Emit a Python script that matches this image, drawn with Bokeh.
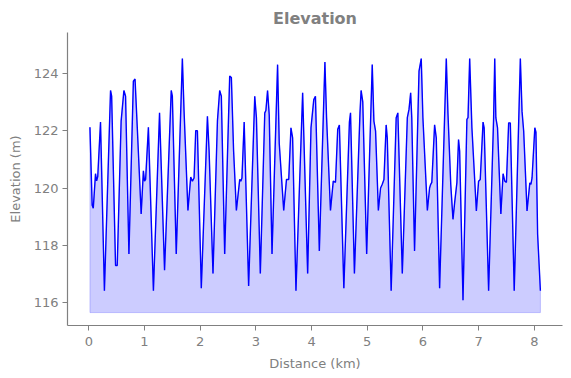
from bokeh.plotting import figure
from bokeh.models import Range1d, FixedTicker
from bokeh.embed import file_html
from bokeh.resources import INLINE

distance_km = [
    0.02, 0.06, 0.08, 0.12, 0.14, 0.16, 0.21, 0.28, 0.39, 0.41, 0.48, 0.51, 0.58, 0.63, 0.66,
    0.72, 0.80, 0.83, 0.87, 0.94, 0.98, 1.00, 1.02, 1.07, 1.16, 1.27, 1.36, 1.48, 1.50, 1.57,
    1.68, 1.71, 1.78, 1.83, 1.86, 1.89, 1.92, 1.95, 2.02, 2.13, 2.16, 2.23, 2.31, 2.35, 2.38,
    2.44, 2.53, 2.56, 2.60, 2.65, 2.71, 2.73, 2.75, 2.79, 2.87, 2.98, 3.01, 3.08, 3.16, 3.18,
    3.21, 3.24, 3.29, 3.39, 3.42, 3.50, 3.55, 3.59, 3.63, 3.66, 3.72, 3.84, 3.93, 3.99, 4.04,
    4.07, 4.14, 4.24, 4.27, 4.34, 4.39, 4.43, 4.47, 4.50, 4.58, 4.68, 4.70, 4.77, 4.87, 4.89,
    4.92, 4.99, 5.09, 5.12, 5.15, 5.20, 5.24, 5.27, 5.30, 5.34, 5.36, 5.43, 5.52, 5.55, 5.63,
    5.72, 5.75, 5.78, 5.80, 5.85, 5.93, 5.97, 6.00, 6.08, 6.12, 6.14, 6.16, 6.21, 6.24, 6.30,
    6.42, 6.45, 6.50, 6.54, 6.57, 6.61, 6.64, 6.66, 6.72, 6.79, 6.81, 6.84, 6.88, 6.96, 7.00,
    7.03, 7.08, 7.10, 7.18, 7.27, 7.29, 7.31, 7.34, 7.40, 7.44, 7.47, 7.50, 7.54, 7.57, 7.64,
    7.75, 7.78, 7.81, 7.87, 7.92, 7.94, 7.96, 8.01, 8.03, 8.06, 8.11,
]
elevation_m = [
    122.12, 119.4, 119.3, 120.5, 120.25, 120.4, 122.3, 116.42, 123.4, 123.2, 117.3, 117.3, 122.33, 123.4, 123.2,
    117.7, 123.72, 123.8, 122.12, 119.1, 120.6, 120.24, 120.3, 122.12, 116.42, 122.62, 117.14, 123.4, 123.2, 117.7,
    124.51, 122.7, 119.22, 120.38, 120.24, 120.35, 122.0, 122.0, 116.51, 122.5, 121.3, 117.02, 122.35, 123.4, 123.2,
    117.7, 123.9, 123.85, 121.3, 119.22, 120.3, 120.24, 120.35, 122.3, 116.59, 123.2, 122.45, 117.02, 122.62, 122.7,
    123.4, 122.55, 117.7, 124.3, 121.55, 119.22, 120.3, 120.3, 122.1, 121.75, 116.42, 123.32, 117.02, 122.1, 123.08,
    123.2, 117.81, 124.39, 122.45, 119.22, 120.24, 120.2, 122.05, 122.2, 116.51, 122.3, 122.62, 117.02, 122.62, 123.4,
    123.0, 117.7, 124.3, 122.33, 121.98, 119.22, 120.0, 120.13, 120.3, 122.2, 121.75, 116.42, 122.45, 122.62, 117.02,
    122.45, 122.74, 123.32, 122.45, 117.81, 124.07, 124.51, 122.45, 119.22, 120.0, 120.13, 120.2, 122.2, 121.75, 116.51,
    124.51, 122.6, 120.13, 118.91, 119.49, 120.18, 121.69, 121.29, 116.09, 122.39, 122.45, 124.51, 122.1, 119.2, 120.24,
    120.3, 122.3, 122.1, 116.42, 122.45, 124.51, 122.45, 122.1, 119.1, 120.5, 120.24, 120.2, 122.27, 122.27, 116.42,
    124.51, 122.68, 121.98, 119.2, 120.18, 120.13, 120.35, 122.1, 121.95, 118.4, 116.42,
]
fill_base = 115.66
x_ticks = [0, 1, 2, 3, 4, 5, 6, 7, 8]
y_ticks = [116, 118, 120, 122, 124]

GRAY = "#808080"
FONT = "DejaVu Sans"

p = figure(width=571, height=378, output_backend="svg", toolbar_location=None,
           x_range=Range1d(-0.383, 8.507), y_range=Range1d(115.21, 125.42),
           min_border_left=67, min_border_right=9, min_border_top=32, min_border_bottom=53)

p.title.text = "Elevation"
p.title.align = "center"
p.title.text_font = FONT
p.title.text_font_size = "16px"
p.title.text_font_style = "bold"
p.title.text_color = GRAY

# fill polygon built from data
poly_x = [distance_km[0]] + distance_km + [distance_km[-1]]
poly_y = [fill_base] + elevation_m + [fill_base]
p.patch(poly_x, poly_y, fill_color="blue", fill_alpha=0.2, line_color="blue", line_alpha=0.2, line_width=1)
p.line(distance_km, elevation_m, line_color="blue", line_width=1.4)

p.xgrid.visible = False
p.ygrid.visible = False
p.outline_line_color = None
p.background_fill_color = "white"
p.border_fill_color = "white"

p.xaxis.ticker = FixedTicker(ticks=x_ticks)
p.yaxis.ticker = FixedTicker(ticks=y_ticks)
for ax in (p.xaxis[0], p.yaxis[0]):
    ax.axis_line_color = GRAY
    ax.axis_line_width = 1.2
    ax.major_tick_line_color = GRAY
    ax.major_tick_in = 0
    ax.major_tick_out = 5
    ax.minor_tick_line_color = None
    ax.major_label_text_color = GRAY
    ax.major_label_text_font = FONT
    ax.major_label_text_font_size = "13px"
    ax.axis_label_text_color = GRAY
    ax.axis_label_text_font = FONT
    ax.axis_label_text_font_size = "13px"
    ax.axis_label_text_font_style = "normal"
    ax.major_label_standoff = 4

p.xaxis.major_label_standoff = 6
p.xaxis.axis_label = "Distance (km)"
p.yaxis.axis_label = "Elevation (m)"
p.xaxis.axis_label_standoff = 7
p.yaxis.axis_label_standoff = 8

open("out.html", "w").write(file_html(p, INLINE))
